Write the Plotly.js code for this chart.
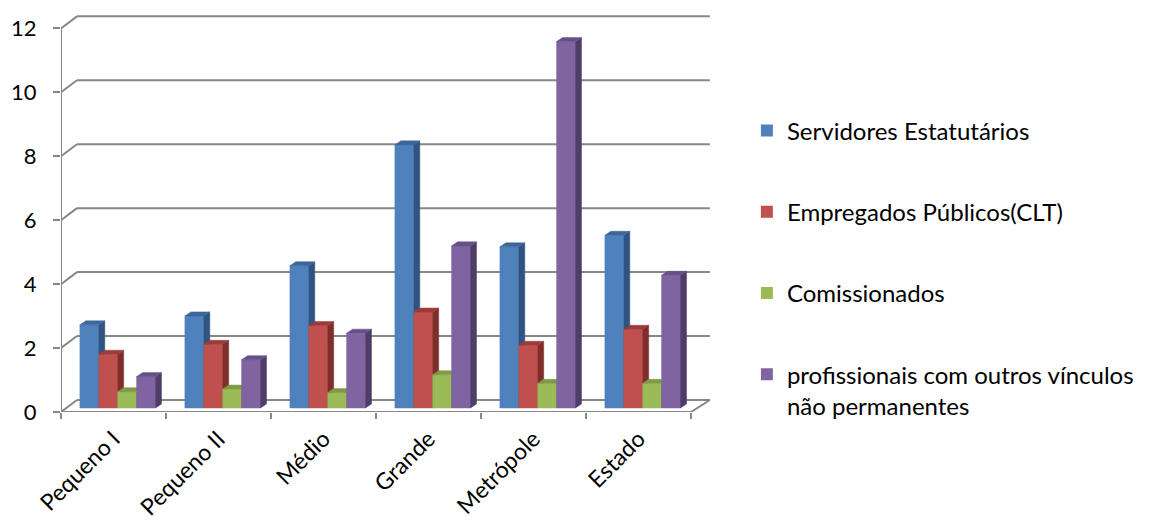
<!DOCTYPE html>
<html><head><meta charset="utf-8">
<script src="https://cdn.plot.ly/plotly-3.0.1.min.js"></script>
<style>html,body{margin:0;padding:0;background:#fff}#chart{width:1151px;height:523px}</style>
</head><body><div id="chart"></div>
<script>
const categories = ['Pequeno I','Pequeno II','Médio','Grande','Metrópole','Estado'];
const seriesNames = ['Servidores Estatutários','Empregados Públicos(CLT)','Comissionados','profissionais com outros vínculos<br>não permanentes'];
const servidores    = [2.60, 2.88, 4.45, 8.23, 5.04, 5.40];
const empregados    = [1.68, 1.99, 2.58, 3.00, 1.96, 2.46];
const comissionados = [0.51, 0.59, 0.48, 1.04, 0.77, 0.77];
const outros        = [0.98, 1.51, 2.34, 5.07, 11.46, 4.15];
const yTicks = [0, 2, 4, 6, 8, 10, 12];

const frontColors = ['#4F81BD', '#C0504D', '#9BBB59', '#8064A2'];
const sideColors  = ['#2F5482', '#7F2E2C', '#6A8439', '#4F3C68'];
const topColors   = ['#3D6699', '#9B3C3A', '#7E9A45', '#65508A'];

const series = [servidores, empregados, comissionados, outros];

// 3D geometry (in axis units)
const X0 = [-0.32, -0.14, 0.04, 0.22];
const W = 0.18, SDX = 0.057, SDY = 0.126, B0 = 0.126;
const WALL_DY = 0.376, WALL_DXL = 0.152, WALL_DXR = 0.18;

const traces = [];
series.forEach((vals, s) => {
  const fx = [], fy = [], sx = [], sy = [], tx = [], ty = [];
  vals.forEach((v, i) => {
    const x = i + X0[s];
    fx.push(x, x + W, x + W, x, x, null);
    fy.push(B0, B0, B0 + v, B0 + v, B0, null);
    sx.push(x + W, x + W + SDX, x + W + SDX, x + W, x + W, null);
    sy.push(B0, B0 + SDY, B0 + v + SDY, B0 + v, B0, null);
    tx.push(x, x + W, x + W + SDX, x + SDX, x, null);
    ty.push(B0 + v, B0 + v, B0 + v + SDY, B0 + v + SDY, B0 + v, null);
  });
  [[fx, fy, frontColors[s]], [sx, sy, sideColors[s]], [tx, ty, topColors[s]]].forEach(([xx, yy, c]) => {
    traces.push({type: 'scatter', mode: 'lines', x: xx, y: yy, fill: 'toself',
      fillcolor: c, line: {width: 0.5, color: c}, hoverinfo: 'skip', showlegend: false});
  });
});
// legend entries
series.forEach((vals, s) => {
  traces.push({type: 'bar', x: [0], y: [0], name: seriesNames[s], legendgroup: 'g' + s,
    marker: {color: frontColors[s], line: {width: 0}}, hoverinfo: 'skip'});
});

const gridColor = '#878787';
const shapes = [];
yTicks.forEach(t => {
  shapes.push({type: 'line', xref: 'x', yref: 'y', layer: 'below', x0: -0.5, y0: t, x1: -0.5 + WALL_DXL, y1: t + WALL_DY, line: {color: gridColor, width: 2}});
  shapes.push({type: 'line', xref: 'x', yref: 'y', layer: 'below', x0: -0.5 + WALL_DXL, y0: t + WALL_DY, x1: categories.length - 0.5 + WALL_DXR, y1: t + WALL_DY, line: {color: gridColor, width: 2}});
});
// front floor edge, right floor edge, vertical axis line
shapes.push({type: 'line', xref: 'x', yref: 'y', layer: 'below', x0: -0.5, y0: 0, x1: categories.length - 0.5, y1: 0, line: {color: gridColor, width: 2}});
shapes.push({type: 'line', xref: 'x', yref: 'y', layer: 'below', x0: categories.length - 0.5, y0: 0, x1: categories.length - 0.5 + WALL_DXR, y1: WALL_DY, line: {color: gridColor, width: 2}});
shapes.push({type: 'line', xref: 'x', yref: 'y', layer: 'below', x0: -0.5, y0: 0, x1: -0.5, y1: yTicks[yTicks.length - 1], line: {color: gridColor, width: 2}});

const fontFam = 'Lato, "Open Sans", sans-serif';
const layout = {
  width: 1151, height: 523,
  margin: {l: 61, r: 437, t: 14, b: 111},
  paper_bgcolor: '#fff', plot_bgcolor: 'rgba(0,0,0,0)',
  showlegend: true,
  font: {family: fontFam, color: '#000'},
  xaxis: {
    range: [-0.5, 5.7], showgrid: false, zeroline: false, showline: false,
    tickmode: 'array', tickvals: categories.map((c, i) => i), ticktext: categories,
    ticks: '', tickangle: -45, ticklabelstandoff: 8, tickfont: {size: 23, family: fontFam, color: '#000'},
    minor: {tickmode: 'array', tickvals: categories.map((c, i) => i - 0.5).concat([categories.length - 0.5]),
      ticks: 'outside', ticklen: 6, tickwidth: 2, tickcolor: gridColor, showgrid: false},
    fixedrange: true
  },
  yaxis: {
    range: [0, 12.45], showgrid: false, zeroline: false, showline: false,
    tickmode: 'array', tickvals: yTicks, ticks: 'outside', ticklen: 7, tickwidth: 2, tickcolor: gridColor,
    ticklabelstandoff: 12,
    tickfont: {size: 22, family: fontFam, color: '#000'}, fixedrange: true
  },
  legend: {
    x: 1.0536, xanchor: 'left', y: 0.7626, yanchor: 'top',
    font: {size: 24, family: fontFam, color: '#000'},
    traceorder: 'grouped', tracegroupgap: 47, valign: 'top',
    itemclick: false, itemdoubleclick: false, bgcolor: 'rgba(0,0,0,0)'
  },
  shapes: shapes,
  barmode: 'overlay'
};
Plotly.newPlot('chart', traces, layout, {displayModeBar: false, staticPlot: true});
</script></body></html>
